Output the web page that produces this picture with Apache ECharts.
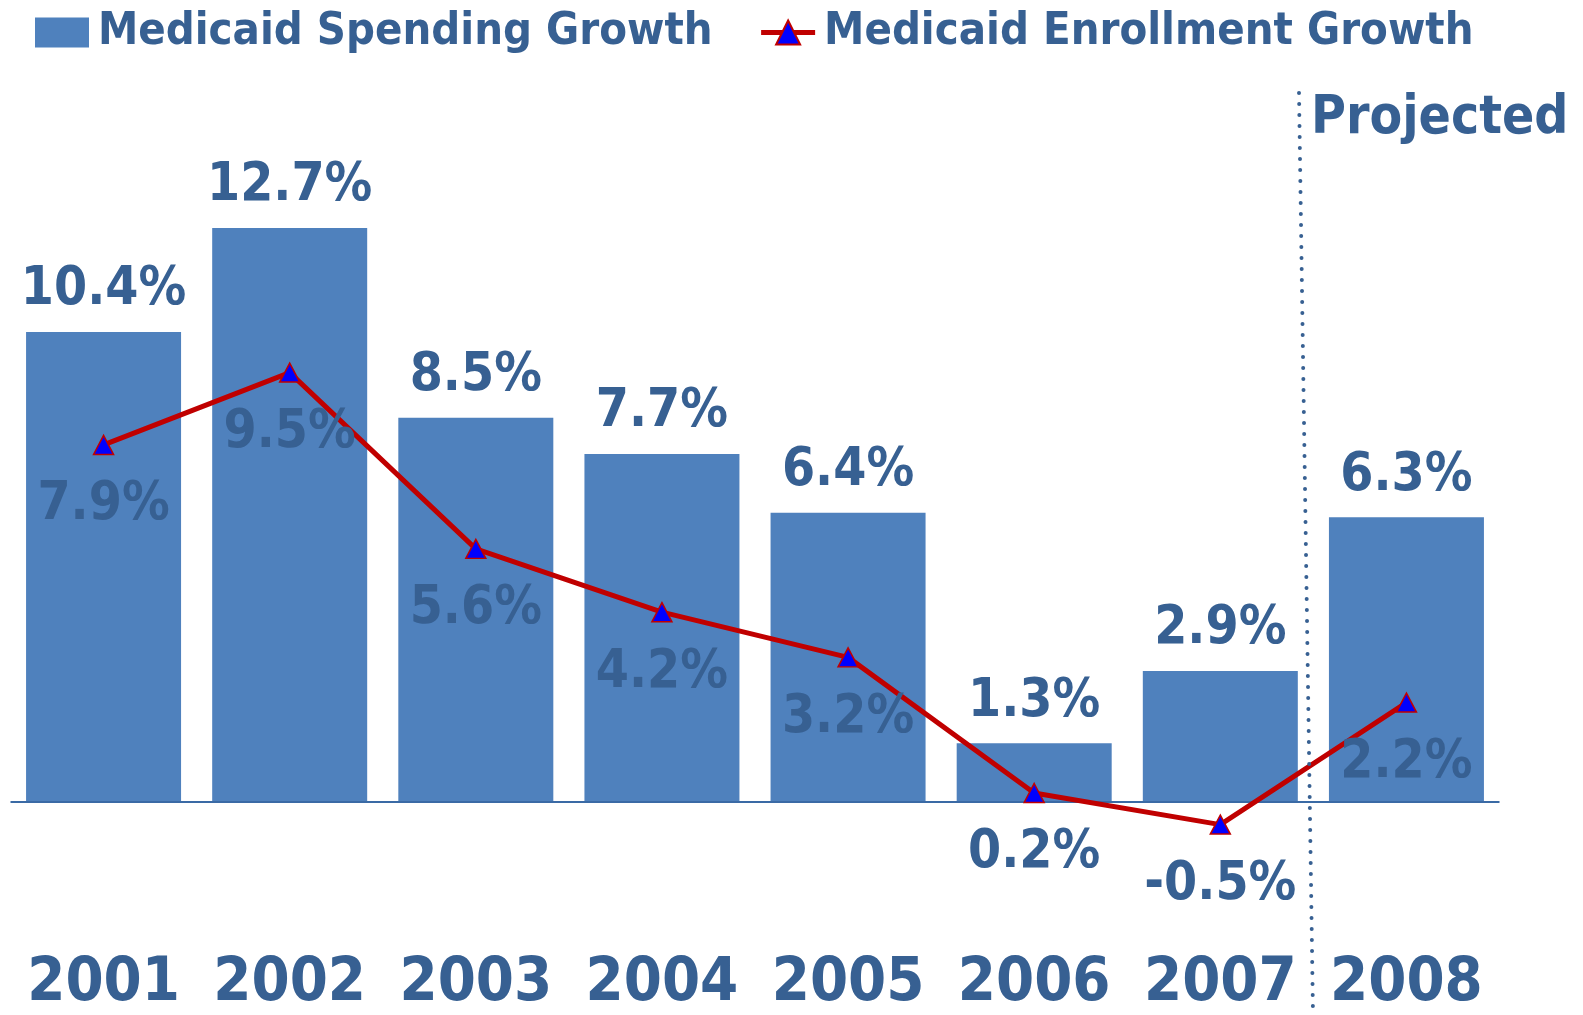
<!DOCTYPE html>
<html>
<head>
<meta charset="utf-8">
<title>Medicaid Spending and Enrollment Growth</title>
<script src="https://cdn.jsdelivr.net/npm/echarts@6/dist/echarts.min.js"></script>
<style>
  html, body { margin: 0; padding: 0; background: #fff; }
  #chart { width: 1583px; height: 1015px; }
</style>
</head>
<body>
<div id="chart"></div>
<script>
// data
var years = ['2001', '2002', '2003', '2004', '2005', '2006', '2007', '2008'];
var spendingGrowth = [10.4, 12.7, 8.5, 7.7, 6.4, 1.3, 2.9, 6.3];
var enrollmentGrowth = [7.9, 9.5, 5.6, 4.2, 3.2, 0.2, -0.5, 2.2];

var textBlue = '#376092';
var font = "'DejaVu Sans Condensed', 'DejaVu Sans', sans-serif";

var chart = echarts.init(document.getElementById('chart'));

var option = {
    backgroundColor: '#fff',
    animation: false,
    legend: {
        left: 35,
        top: 10,
        padding: 0,
        itemWidth: 54,
        itemHeight: 30,
        itemGap: 46,
        lineStyle: { width: 5 },
        textStyle: {
            color: textBlue,
            fontFamily: font,
            fontWeight: 'bold',
            fontSize: 45,
            padding: [0, 0, 0, 4]
        },
        data: [
            { name: 'Medicaid Spending Growth', icon: 'rect' },
            { name: 'Medicaid Enrollment Growth' }
        ]
    },
    grid: {
        left: 10.5,
        right: 83.5,
        top: 169.2,
        bottom: 77.4,
        containLabel: false
    },
    xAxis: {
        type: 'category',
        data: years,
        axisLine: { show: false, onZero: false },
        axisTick: { show: false },
        axisLabel: {
            interval: 0,
            margin: 16,
            color: textBlue,
            fontFamily: font,
            fontWeight: 'bold',
            fontSize: 61
        }
    },
    yAxis: {
        type: 'value',
        min: -3,
        max: 14,
        show: false,
        splitLine: { show: false }
    },
    graphic: [
        {
            // dotted divider before the projected year
            type: 'line',
            shape: { x1: 1299, y1: 93, x2: 1313, y2: 1015 },
            style: {
                stroke: textBlue,
                lineWidth: 4,
                lineDash: [0, 11],
                lineCap: 'round'
            },
            z: 10
        },
        {
            type: 'text',
            left: 1311,
            top: 93,
            style: {
                text: 'Projected',
                fill: textBlue,
                font: 'bold 53px ' + font
            },
            z: 10
        }
    ],
    series: [
        {
            name: 'Medicaid Spending Growth',
            type: 'bar',
            barWidth: 155,
            itemStyle: { color: '#4f81bd' },
            label: {
                show: true,
                position: 'top',
                distance: 15,
                color: textBlue,
                fontFamily: font,
                fontWeight: 'bold',
                fontSize: 53,
                formatter: '{c}%'
            },
            markLine: {
                silent: true,
                symbol: 'none',
                label: { show: false },
                lineStyle: { color: '#3a6aa5', width: 2, type: 'solid' },
                data: [{ yAxis: 0 }]
            },
            data: spendingGrowth
        },
        {
            name: 'Medicaid Enrollment Growth',
            type: 'line',
            symbol: 'triangle',
            symbolSize: [20, 19],
            lineStyle: { color: '#c00000', width: 5 },
            itemStyle: { color: '#0000ff', borderColor: '#c00000', borderWidth: 1.5 },
            label: {
                show: true,
                position: 'bottom',
                distance: 24,
                color: textBlue,
                fontFamily: font,
                fontWeight: 'bold',
                fontSize: 53,
                formatter: '{c}%'
            },
            z: 5,
            data: enrollmentGrowth
        }
    ]
};

chart.setOption(option);
</script>
</body>
</html>
